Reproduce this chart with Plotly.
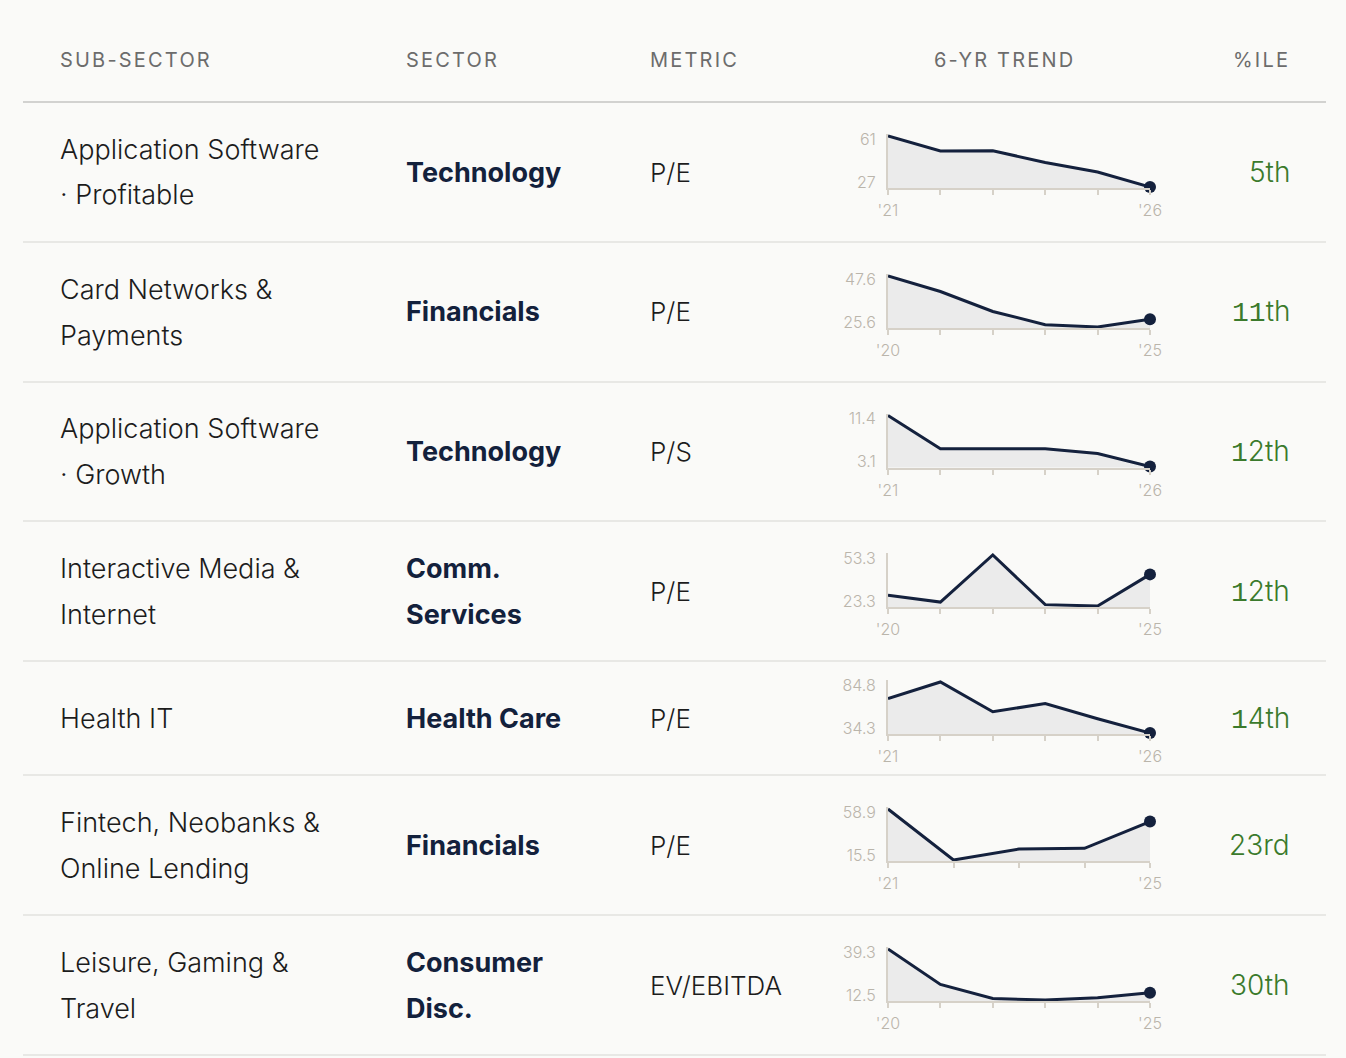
import plotly.graph_objects as go

# ---------------- data ----------------
HEADERS = ["SUB-SECTOR", "SECTOR", "METRIC", "6-YR TREND", "%ILE"]
SUBSECTORS = [
    ["Application Software", "· Profitable"],
    ["Card Networks &", "Payments"],
    ["Application Software", "· Growth"],
    ["Interactive Media &", "Internet"],
    ["Health IT"],
    ["Fintech, Neobanks &", "Online Lending"],
    ["Leisure, Gaming &", "Travel"],
]
SECTORS = [
    ["Technology"],
    ["Financials"],
    ["Technology"],
    ["Comm.", "Services"],
    ["Health Care"],
    ["Financials"],
    ["Consumer", "Disc."],
]
METRICS = ["P/E", "P/E", "P/S", "P/E", "P/E", "P/E", "EV/EBITDA"]
PERCENTILES = ["5th", "11th", "12th", "12th", "14th", "23rd", "30th"]
START_YEARS = [2021, 2020, 2021, 2020, 2021, 2021, 2020]

TREND_APP_PROFITABLE = [61, 51.0, 51.2, 43.3, 37.0, 27]
TREND_CARD_NETWORKS = [47.6, 40.9, 32.3, 26.6, 25.6, 28.9]
TREND_APP_GROWTH = [11.4, 6.0, 6.0, 6.0, 5.2, 3.1]
TREND_INTERACTIVE = [29.7, 25.6, 53.3, 24.1, 23.3, 41.9]
TREND_HEALTH_IT = [68.4, 84.8, 55.3, 63.5, 48.4, 34.3]
TREND_FINTECH = [58.9, 15.5, 24.8, 25.4, 48.2]
TREND_LEISURE = [39.3, 20.7, 13.3, 12.5, 13.7, 16.3]
TRENDS = [TREND_APP_PROFITABLE, TREND_CARD_NETWORKS, TREND_APP_GROWTH,
          TREND_INTERACTIVE, TREND_HEALTH_IT, TREND_FINTECH, TREND_LEISURE]

# ---------------- layout (pixels) ----------------
W, H = 1346, 1058
BG = "#fafaf8"
NAVY = "#14213d"
GREEN = "#3b7a2c"
AXIS_C = "#d6d1c8"
TICKLBL_C = "#bab5ab"
FONT = "Inter"

COL_X = [60, 406, 650, 1004, 1290]
HEADER_Y = 60
ROW_EDGES = [102, 242, 382, 521, 661, 775, 915, 1055]
LINE_GAP = 46
SPARK_X0, SPARK_X1 = 888, 1150
SPARK_TOP, SPARK_BOT = -36, 15   # offsets from row centre
LABEL_IN_TOP, LABEL_IN_BOT = 3, 5  # px the min/max labels sit inside the range
LEFT, RIGHT = 23, 1326


def px(x):
    return x / W


def py(y):
    return 1 - y / H


fig = go.Figure()
annotations = []
shapes = []


def note(x, y, text, anchor, font):
    annotations.append(dict(
        x=px(x), y=py(y), xref="paper", yref="paper", text=text,
        showarrow=False, xanchor=anchor, yanchor="middle",
        borderpad=0, borderwidth=0, font=font))


# header
for i, h in enumerate(HEADERS):
    anchor = "left"
    if i == 3:
        anchor = "center"
    elif i == 4:
        anchor = "right"
    note(COL_X[i], HEADER_Y, '<span style="letter-spacing:2.2px">' + h + '</span>', anchor,
         dict(family=FONT, size=20, color="#6c6c6c"))

shapes.append(dict(type="line", xref="paper", yref="paper",
                   x0=px(LEFT), x1=px(RIGHT), y0=py(ROW_EDGES[0]), y1=py(ROW_EDGES[0]),
                   line=dict(color="#d2d2d0", width=2)))
for e in ROW_EDGES[1:]:
    shapes.append(dict(type="line", xref="paper", yref="paper",
                       x0=px(LEFT), x1=px(RIGHT), y0=py(e), y1=py(e),
                       line=dict(color="#e8e8e5", width=2)))


def multiline(lines, x, cy, font):
    n = len(lines)
    for k, t in enumerate(lines):
        yy = cy + (k - (n - 1) / 2) * LINE_GAP
        note(x, yy, t, "left", font)


def pct_text(s):
    # the reference face draws "1" with a flag and foot
    return s.replace("1", '<span style="font-family:Liberation Mono">1</span>')


layout_axes = {}
for r in range(len(TRENDS)):
    cy = (ROW_EDGES[r] + ROW_EDGES[r + 1]) / 2
    multiline(SUBSECTORS[r], COL_X[0], cy, dict(family=FONT, size=27, color="#1c1c1c", weight=300))
    multiline(SECTORS[r], COL_X[1], cy, dict(family=FONT, size=27, color="#13213c", weight=700))
    note(COL_X[2], cy, METRICS[r], "left", dict(family=FONT, size=26, color="#1c1c1c", weight=300))
    note(COL_X[4], cy, pct_text(PERCENTILES[r]), "right", dict(family=FONT, size=28, color=GREEN, weight=300))

    # sparkline
    vals = TRENDS[r]
    years = [START_YEARS[r] + k for k in range(len(vals))]
    lo, hi = min(vals), max(vals)
    span = hi - lo
    top_px = cy + SPARK_TOP
    bot_px = cy + SPARK_BOT
    hpx = bot_px - top_px
    pad_t, pad_b = 2, 1
    rng = [lo - span * pad_b / hpx, hi + span * pad_t / hpx]
    idx = "" if r == 0 else str(r + 1)
    xa, ya = "x" + idx, "y" + idx
    fig.add_trace(go.Scatter(
        x=years, y=vals, mode="lines", fill="tozeroy", fillcolor="#ebebeb",
        line=dict(color=NAVY, width=3), xaxis=xa, yaxis=ya,
        hoverinfo="skip", showlegend=False))
    fig.add_trace(go.Scatter(
        x=[years[-1]], y=[vals[-1]], mode="markers", cliponaxis=False,
        marker=dict(color=NAVY, size=12), xaxis=xa, yaxis=ya,
        hoverinfo="skip", showlegend=False))
    ticktext = ["'" + str(y)[2:] if k in (0, len(years) - 1) else "" for k, y in enumerate(years)]
    layout_axes["xaxis" + idx] = dict(
        domain=[px(SPARK_X0), px(SPARK_X1)], anchor=ya, range=[years[0], years[-1]],
        showline=True, linecolor=AXIS_C, linewidth=2, ticks="outside", ticklen=5,
        tickwidth=2, tickcolor=AXIS_C, tickvals=years, ticktext=ticktext,
        tickfont=dict(family=FONT, size=16, color=TICKLBL_C, weight=300), ticklabelstandoff=2,
        showgrid=False, zeroline=False, fixedrange=True, automargin=False)
    layout_axes["yaxis" + idx] = dict(
        domain=[py(bot_px + pad_b), py(top_px - pad_t)], anchor=xa, range=rng,
        showline=True, linecolor=AXIS_C, linewidth=2, ticks="",
        tickvals=[lo + span * LABEL_IN_BOT / hpx, hi - span * LABEL_IN_TOP / hpx],
        ticktext=[f"{lo:g}", f"{hi:g}"],
        tickfont=dict(family=FONT, size=16, color=TICKLBL_C, weight=300), ticklabelstandoff=7,
        showgrid=False, zeroline=False, fixedrange=True, automargin=False)

fig.update_layout(
    template="none",
    width=W, height=H, autosize=False,
    margin=dict(l=0, r=0, t=0, b=0, pad=0),
    paper_bgcolor=BG, plot_bgcolor="rgba(0,0,0,0)",
    annotations=annotations, shapes=shapes, showlegend=False,
    **layout_axes,
)

fig.write_html("out.html", config={"displayModeBar": False, "staticPlot": True},
               post_script="document.body.style.margin='0';document.body.style.background='" + BG + "';")
